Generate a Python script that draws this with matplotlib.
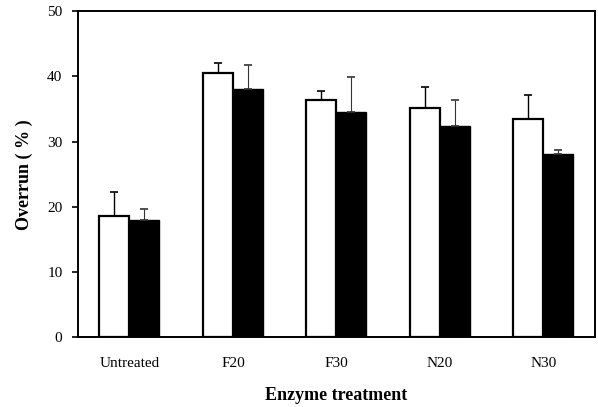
import numpy as np
import matplotlib.pyplot as plt

plt.rcParams.update({
    "font.family": "serif",
    "font.serif": ["Liberation Serif", "DejaVu Serif"],
    "xtick.labelsize": 11,
    "ytick.labelsize": 11,
})

# Data
treatments = ['Untreated', 'F20', 'F30', 'N20', 'N30']
white_vals = [18.6, 40.5, 36.4, 35.1, 33.4]
white_err = [3.6, 1.5, 1.4, 3.3, 3.8]
black_vals = [18.0, 38.1, 34.6, 32.4, 28.1]
black_err = [1.6, 3.6, 5.3, 4.0, 0.6]

fig = plt.figure(figsize=(5.98, 4.07), dpi=100)
ax = fig.add_axes([0.130, 0.171, 0.865, 0.802])

x = np.arange(len(treatments))
w = 0.29

ax.bar(x - w / 2, white_vals, w, color='white', edgecolor='black', linewidth=1.6,
       yerr=[np.zeros(len(white_err)), white_err],
       error_kw=dict(ecolor='black', elinewidth=1.0, capsize=3, capthick=1.2))
ax.bar(x + w / 2, black_vals, w, color='black', edgecolor='black', linewidth=1.0,
       yerr=[np.zeros(len(black_err)), black_err],
       error_kw=dict(ecolor='#333333', elinewidth=0.8, capsize=3, capthick=1.2))

ax.set_xlim(-0.5, 4.5)
ax.set_ylim(0, 50)
ax.set_yticks(range(0, 51, 10))
ax.set_xticks(x)
ax.set_xticklabels(treatments)
ax.tick_params(axis='x', length=0, pad=14)
ax.tick_params(axis='y', direction='out', length=4, width=1.2, pad=7)

for s in ax.spines.values():
    s.set_linewidth(1.4)

ax.set_xlabel('Enzyme treatment', fontsize=13, fontweight='bold', labelpad=12)
ax.set_ylabel('Overrun ( % )', fontsize=13, fontweight='bold', labelpad=10)

plt.savefig('out.png', dpi=100)
